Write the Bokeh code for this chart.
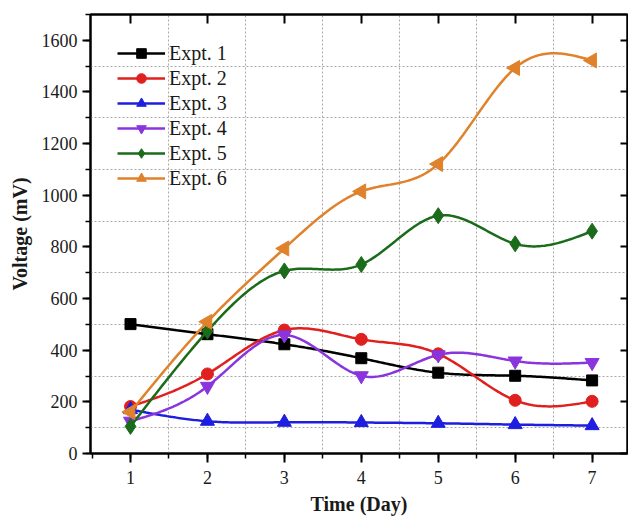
import numpy as np
from bokeh.plotting import figure
from bokeh.models import (Range1d, LinearAxis, SingleIntervalTicker, FixedTicker,
                          Legend, LegendItem, ColumnDataSource)
from bokeh.embed import file_html
from bokeh.resources import INLINE

days = [1, 2, 3, 4, 5, 6, 7]
expt1 = [501, 462, 423, 369, 313, 301, 283]
expt2 = [182, 308, 478, 442, 386, 206, 202]
expt3 = [170, 125, 121, 120, 117, 112, 108]
expt4 = [125, 260, 459, 301, 382, 358, 352]
expt5 = [105, 474, 707, 732, 921, 812, 861]
expt6 = [161, 510, 794, 1015, 1121, 1493, 1522]

labels = ["Expt. 1", "Expt. 2", "Expt. 3", "Expt. 4", "Expt. 5", "Expt. 6"]
colors = ["#000000", "#e0201e", "#1e1ee0", "#8a34de", "#1a6b1a", "#e0822c"]
markers = ["square", "circle", "triangle", "inverted_triangle", "diamond", "triangle"]
angles = [0.0, 0.0, 0.0, 0.0, 0.0, 1.5707963]
sizes = [11, 12, 14, 14, 16, 15]
series = [expt1, expt2, expt3, expt4, expt5, expt6]


def natural_spline(x, y, per=40):
    x = np.asarray(x, float)
    y = np.asarray(y, float)
    n = len(x)
    h = np.diff(x)
    A = np.zeros((n, n))
    r = np.zeros(n)
    A[0, 0] = 1
    A[-1, -1] = 1
    for i in range(1, n - 1):
        A[i, i - 1] = h[i - 1]
        A[i, i] = 2 * (h[i - 1] + h[i])
        A[i, i + 1] = h[i]
        r[i] = 6 * ((y[i + 1] - y[i]) / h[i] - (y[i] - y[i - 1]) / h[i - 1])
    M = np.linalg.solve(A, r)
    xs, ys = [], []
    for i in range(n - 1):
        t = np.linspace(x[i], x[i + 1], per, endpoint=(i == n - 2))
        a = x[i + 1] - t
        b = t - x[i]
        s = (M[i] * a ** 3 + M[i + 1] * b ** 3) / (6 * h[i]) \
            + (y[i] / h[i] - M[i] * h[i] / 6) * a \
            + (y[i + 1] / h[i] - M[i + 1] * h[i] / 6) * b
        xs.extend(t)
        ys.extend(s)
    return xs, ys


FONT = "Liberation Serif"

p = figure(width=628, height=517, output_backend="svg", toolbar_location=None,
           x_range=Range1d(0.48, 7.46), y_range=Range1d(0, 1700),
           x_axis_location=None, y_axis_location=None,
           min_border_left=90, min_border_right=1, min_border_top=14,
           min_border_bottom=63)
p.background_fill_color = "white"
p.border_fill_color = "white"
p.outline_line_color = "#000000"
p.outline_line_width = 2


def style_axis(ax):
    ax.axis_line_width = 2
    ax.axis_line_color = "#000000"
    ax.major_tick_line_width = 2
    ax.minor_tick_line_width = 1.5
    ax.major_tick_line_color = "#000000"
    ax.minor_tick_line_color = "#000000"
    ax.major_label_text_font = FONT
    ax.major_label_text_font_size = "18px"
    ax.major_label_text_color = "#1a1a1a"
    ax.axis_label_text_font = FONT
    ax.axis_label_text_font_size = "20px"
    ax.axis_label_text_font_style = "bold"
    ax.axis_label_text_color = "#1a1a1a"


xb = LinearAxis(ticker=SingleIntervalTicker(interval=1, num_minor_ticks=2),
                axis_label="Time (Day)")
style_axis(xb)
xb.major_tick_out = 9
xb.major_tick_in = 0
xb.minor_tick_out = 5
xb.minor_tick_in = 0
xb.major_label_standoff = 8
xb.axis_label_standoff = 6
p.add_layout(xb, "below")

yl = LinearAxis(ticker=SingleIntervalTicker(interval=200, num_minor_ticks=2),
                axis_label="Voltage (mV)")
style_axis(yl)
yl.major_tick_out = 8
yl.major_tick_in = 0
yl.minor_tick_out = 5
yl.minor_tick_in = 0
yl.major_label_standoff = 5
yl.axis_label_standoff = 8
p.add_layout(yl, "left")

# top and right frame ticks (drawn as minor ticks, so they carry no labels)
xt = LinearAxis(ticker=FixedTicker(ticks=[], minor_ticks=days))
style_axis(xt)
xt.major_tick_out = 0
xt.minor_tick_out = 0
xt.minor_tick_in = 9
xt.minor_tick_line_width = 2
xt.major_label_standoff = 0
p.add_layout(xt, "above")

yr = LinearAxis(ticker=FixedTicker(ticks=[], minor_ticks=[0, 200, 400, 600, 800, 1000, 1200, 1400, 1600]))
style_axis(yr)
yr.major_tick_out = 0
yr.minor_tick_out = 0
yr.minor_tick_in = 7
yr.minor_tick_line_width = 2
yr.major_label_standoff = 0
p.add_layout(yr, "right")

p.xgrid.ticker = FixedTicker(ticks=[1.5, 2.5, 3.5, 4.5, 5.5, 6.5])
p.ygrid.ticker = FixedTicker(ticks=[100, 300, 500, 700, 900, 1100, 1300, 1500])
for g in (p.xgrid, p.ygrid):
    g.grid_line_color = "#a8a8a8"
    g.grid_line_dash = "2 2"
    g.grid_line_width = 1

items = []
for lab, col, mk, ang, sz, ys in zip(labels, colors, markers, angles, sizes, series):
    sx, sy = natural_spline(days, ys)
    lr = p.line(sx, sy, line_color=col, line_width=2.5)
    src = ColumnDataSource(dict(x=days, y=ys, a=[ang] * len(days)))
    sr = p.scatter("x", "y", source=src, marker=mk, angle="a", size=sz,
                   fill_color=col, line_color=col)
    items.append(LegendItem(label=lab, renderers=[lr, sr], index=0))

legend = Legend(items=items, location="top_left")
legend.margin = 27
legend.padding = 0
legend.spacing = 1
legend.glyph_width = 48
legend.glyph_height = 24
legend.label_height = 24
legend.label_standoff = 4
legend.label_text_font = FONT
legend.label_text_font_size = "20px"
legend.label_text_color = "#1a1a1a"
legend.background_fill_alpha = 0
legend.border_line_color = None
p.add_layout(legend, "center")

open("out.html", "w").write(file_html(p, INLINE))
